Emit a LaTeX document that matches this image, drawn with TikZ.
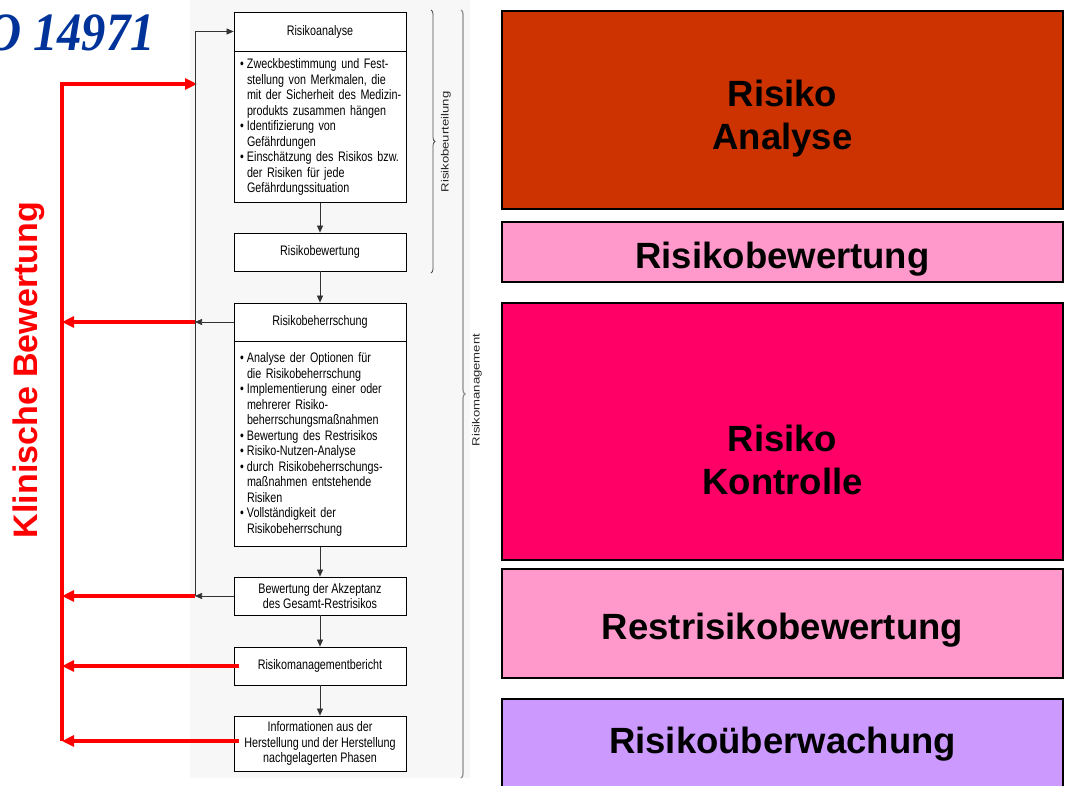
\documentclass[tikz,border=0pt]{standalone}
\usepackage{fontspec}
\usepackage{graphicx}
\setmainfont{Liberation Sans}
\newfontfamily\titlefont{Liberation Serif}
\newfontfamily\flowfont{Liberation Sans}[FakeStretch=0.78]
\usetikzlibrary{arrows.meta,decorations.pathreplacing,calc}
\definecolor{titleblue}{RGB}{0,51,153}
\definecolor{cAna}{RGB}{204,51,0}
\definecolor{cPink}{RGB}{255,153,204}
\definecolor{cKon}{RGB}{255,0,102}
\definecolor{cLil}{RGB}{204,153,255}
\newcommand\bl{\makebox[7pt][l]{\textbullet}}
\newcommand\ind{\hspace*{7pt}}
\begin{document}
\begin{tikzpicture}[x=1pt,y=-1pt,
  flow/.style={draw=black, line width=0.8pt, fill=white, minimum width=172pt,
    minimum height=38pt, inner sep=0pt, align=center,
    font=\flowfont\fontsize{13.8}{15.5}\selectfont},
  flowbody/.style={flow, text width=160pt, inner xsep=6pt, align=left},
  blk/.style={draw=black!80, line width=0.7pt, -{Triangle[length=7pt,width=6pt]}},
  redarr/.style={draw=red, line width=3.5pt, -{Triangle[length=12pt,width=11pt]}},
  cbox/.style={draw=black, line width=1.2pt, minimum width=561pt, inner sep=0pt},
  ctext/.style={font=\fontsize{36.5}{43}\selectfont\bfseries, align=center, text=black},
  bracelab/.style={rotate=90, text=black!85, font=\fontsize{10.5}{12}\selectfont},
  bracestyle/.style={decorate, decoration={brace, amplitude=4pt}, line width=0.8pt}
]
\useasboundingbox (0,0) rectangle (1065,785);
% light panel behind the flow chart
\fill[black!3] (190,0) rectangle (470,778);

% title
\node[anchor=base east, text=titleblue, inner sep=0pt,
  font=\titlefont\bfseries\itshape\fontsize{54}{54}\selectfont] (title) at (155,50)
  {\scalebox{0.9}[1]{O 14971}};

% flow chart boxes
\node[flow, minimum height=39pt] (ra) at (320,31.5) {Risikoanalyse};
\node[flowbody, anchor=north, minimum height=151pt] (rab) at (ra.south) {%
\bl\mbox{Zweckbestimmung und Fest-}\\
\ind\mbox{stellung von Merkmalen, die}\\
\ind\mbox{mit der Sicherheit des Medizin-}\\
\ind\mbox{produkts zusammen hängen}\\
\bl Identifizierung von\\
\ind Gefährdungen\\
\bl\mbox{Einschätzung des Risikos bzw.}\\
\ind der Risiken für jede\\
\ind Gefährdungssituation};
\node[flow] (rbw) at (320,252) {Risikobewertung};
\node[flow] (rbh) at (320,322) {Risikobeherrschung};
\node[flowbody, anchor=north, minimum height=205pt] (rbhb) at (rbh.south) {%
\bl\mbox{Analyse der Optionen für}\\
\ind die Risikobeherrschung\\
\bl\mbox{Implementierung einer oder}\\
\ind mehrerer Risiko-\\
\ind beherrschungsmaßnahmen\\
\bl\mbox{Bewertung des Restrisikos}\\
\bl Risiko-Nutzen-Analyse\\
\bl\mbox{durch Risikobeherrschungs-}\\
\ind\mbox{maßnahmen entstehende}\\
\ind Risiken\\
\bl Vollständigkeit der\\
\ind Risikobeherrschung};
\node[flow] (acc) at (320,596) {Bewertung der Akzeptanz\\des Gesamt-Restrisikos};
\node[flow] (mb) at (320,666) {Risikomanagementbericht};
\node[flow, minimum height=55pt] (info) at (320,743.5) {Informationen aus der\\Herstellung und der Herstellung\\nachgelagerten Phasen};

\draw[blk] (rab) -- (rbw);
\draw[blk] (rbw) -- (rbh);
\draw[blk] (rbhb) -- (acc);
\draw[blk] (acc) -- (mb);
\draw[blk] (mb) -- (info);

% braces
\coordinate (bt) at (431,10);
\coordinate (bb) at (431,273);
\draw[bracestyle, draw=black!70] (bt) -- (bb);
\node[bracelab] (lbeur) at (446,142) {\scalebox{1.25}[1]{Risikobeurteilung}};
\coordinate (mt) at (461,10);
\coordinate (mbot) at (461,778);
\draw[bracestyle, draw=black!45, line width=1.2pt] (mt) -- (mbot);
\node[bracelab] (lman) at (477,390) {\scalebox{1.25}[1]{Risikomanagement}};

% red clinical evaluation lines
\coordinate (fbx) at (195,0);
\coordinate (kt) at (62,84);
\coordinate (kb) at (62,741);
\draw[redarr, line join=miter] (kb) -- (kt) -- ($(fbx |- kt)+(2,0)$);
\draw[redarr] (fbx |- rbh.west) -- (kt |- rbh.west);
\draw[redarr] (fbx |- acc.west) -- (kt |- acc.west);
\draw[redarr] ($(mb.west)+(5,0)$) -- (kt |- mb.west);
\draw[redarr] ($(info.west |- kb)+(5,0)$) -- (kb);

% black feedback lines
\draw[blk] (rbh.west) -- (fbx |- rbh.west);
\draw[blk] (acc.west) -- (fbx |- acc.west);
\draw[blk] (fbx |- acc.west) |- (ra.west);

\node[rotate=90, text=red, font=\bfseries\fontsize{34}{34}\selectfont] (klin) at (29,370) {Klinische Bewertung};

% coloured boxes
\node[cbox, fill=cAna, minimum height=198pt] (c1) at (782.5,110) {};
\node[ctext] (t1) at (782.5,119) {Risiko\\Analyse};
\node[cbox, fill=cPink, minimum height=60pt] (c2) at (782.5,252) {};
\node[ctext] (t2) at (782.5,259) {Risikobewertung};
\node[cbox, fill=cKon, minimum height=257pt] (c3) at (782.5,431.5) {};
\node[ctext] (t3) at (782.5,460) {Risiko\\Kontrolle};
\node[cbox, fill=cPink, minimum height=109pt] (c4) at (782.5,623.5) {};
\node[ctext] (t4) at (782.5,630) {Restrisikobewertung};
\node[cbox, fill=cLil, minimum height=90pt] (c5) at (782.5,744) {};
\node[ctext] (t5) at (782.5,744) {Risikoüberwachung};
\end{tikzpicture}
\end{document}
